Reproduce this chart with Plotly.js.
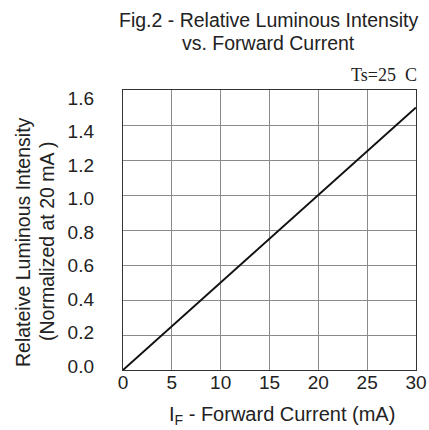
<!DOCTYPE html>
<html><head><meta charset="utf-8">
<script src="https://cdn.plot.ly/plotly-3.0.1.min.js"></script>
<style>html,body{margin:0;padding:0;background:#fff}#c{width:429px;height:430px}</style>
</head><body><div id="c"></div>
<script>
var current = [0, 5, 10, 15, 20, 25, 30];
var intensity = [0, 0.25, 0.5, 0.75, 1.0, 1.25, 1.5];
var xTicks = [0, 5, 10, 15, 20, 25, 30];
var yTicks = [0, 0.2, 0.4, 0.6, 0.8, 1.0, 1.2, 1.4, 1.6];
var yTickText = ["0.0","0.2","0.4","0.6","0.8","1.0","1.2","1.4","1.6"];

var fam = "Liberation Sans, Arial, sans-serif";
var col = "#222";
Plotly.newPlot("c", [{
  x: current, y: intensity, type: "scatter", mode: "lines",
  line: {color: "#111", width: 2}, hoverinfo: "skip"
}, {
  x: current, y: intensity, yaxis: "y2", type: "scatter", mode: "none",
  hoverinfo: "skip", showlegend: false
}], {
  width: 429, height: 430,
  margin: {l: 123, r: 13, t: 90, b: 60},
  paper_bgcolor: "#fff", plot_bgcolor: "#fff",
  showlegend: false,
  xaxis: {range: [0, 30], tickvals: xTicks, ticks: "", showgrid: true,
          gridcolor: "#8a8a8a", gridwidth: 1, zeroline: false,
          showline: true, linecolor: "#333", linewidth: 1, mirror: true,
          ticklabelstandoff: -5,
          tickfont: {family: fam, size: 19, color: col}},
  yaxis: {range: [0, 1.6], tickvals: yTicks, showticklabels: false, ticks: "",
          showgrid: true, gridcolor: "#8a8a8a", gridwidth: 1, zeroline: false,
          showline: true, linecolor: "#333", linewidth: 1, mirror: true},
  yaxis2: {overlaying: "y", side: "left", range: [-0.0242, 1.6485],
          tickvals: yTicks, ticktext: yTickText, ticks: "", showgrid: false,
          zeroline: false, showline: false, ticklabelstandoff: 28,
          tickfont: {family: fam, size: 19, color: col}},
  annotations: [
    {text: "Fig.2 - Relative Luminous Intensity", xref: "paper", yref: "paper", x: 0.5, y: 1.0,
     xanchor: "center", yanchor: "middle", yshift: 70, xshift: -1, showarrow: false,
     font: {family: fam, size: 19.5, color: col}},
    {text: "vs. Forward Current", xref: "paper", yref: "paper", x: 0.5, y: 1.0,
     xanchor: "center", yanchor: "middle", yshift: 47, xshift: -1, showarrow: false,
     font: {family: fam, size: 19.5, color: col}},
    {text: "Ts=25  C", xref: "paper", yref: "paper", x: 1.0, y: 1.0,
     xanchor: "right", yanchor: "middle", yshift: 15, xshift: 3, showarrow: false,
     font: {family: "Liberation Serif, Times New Roman, serif", size: 18, color: col}},
    {text: "Relateive Luminous Intensity", xref: "paper", yref: "paper", x: 0, y: 0.5,
     xanchor: "center", yanchor: "middle", xshift: -100, yshift: -12, textangle: -90, showarrow: false,
     font: {family: fam, size: 19.5, color: col}},
    {text: "(Normalized at 20 mA )", xref: "paper", yref: "paper", x: 0, y: 0.5,
     xanchor: "center", yanchor: "middle", xshift: -76, yshift: -12, textangle: -90, showarrow: false,
     font: {family: fam, size: 19.5, color: col}},
    {text: "I<sub>F</sub> - Forward Current (mA)", xref: "paper", yref: "paper", x: 0.5, y: 0,
     xanchor: "center", yanchor: "middle", yshift: -45, xshift: 12, showarrow: false,
     font: {family: fam, size: 20, color: col}}
  ]
}, {displayModeBar: false});
</script></body></html>
